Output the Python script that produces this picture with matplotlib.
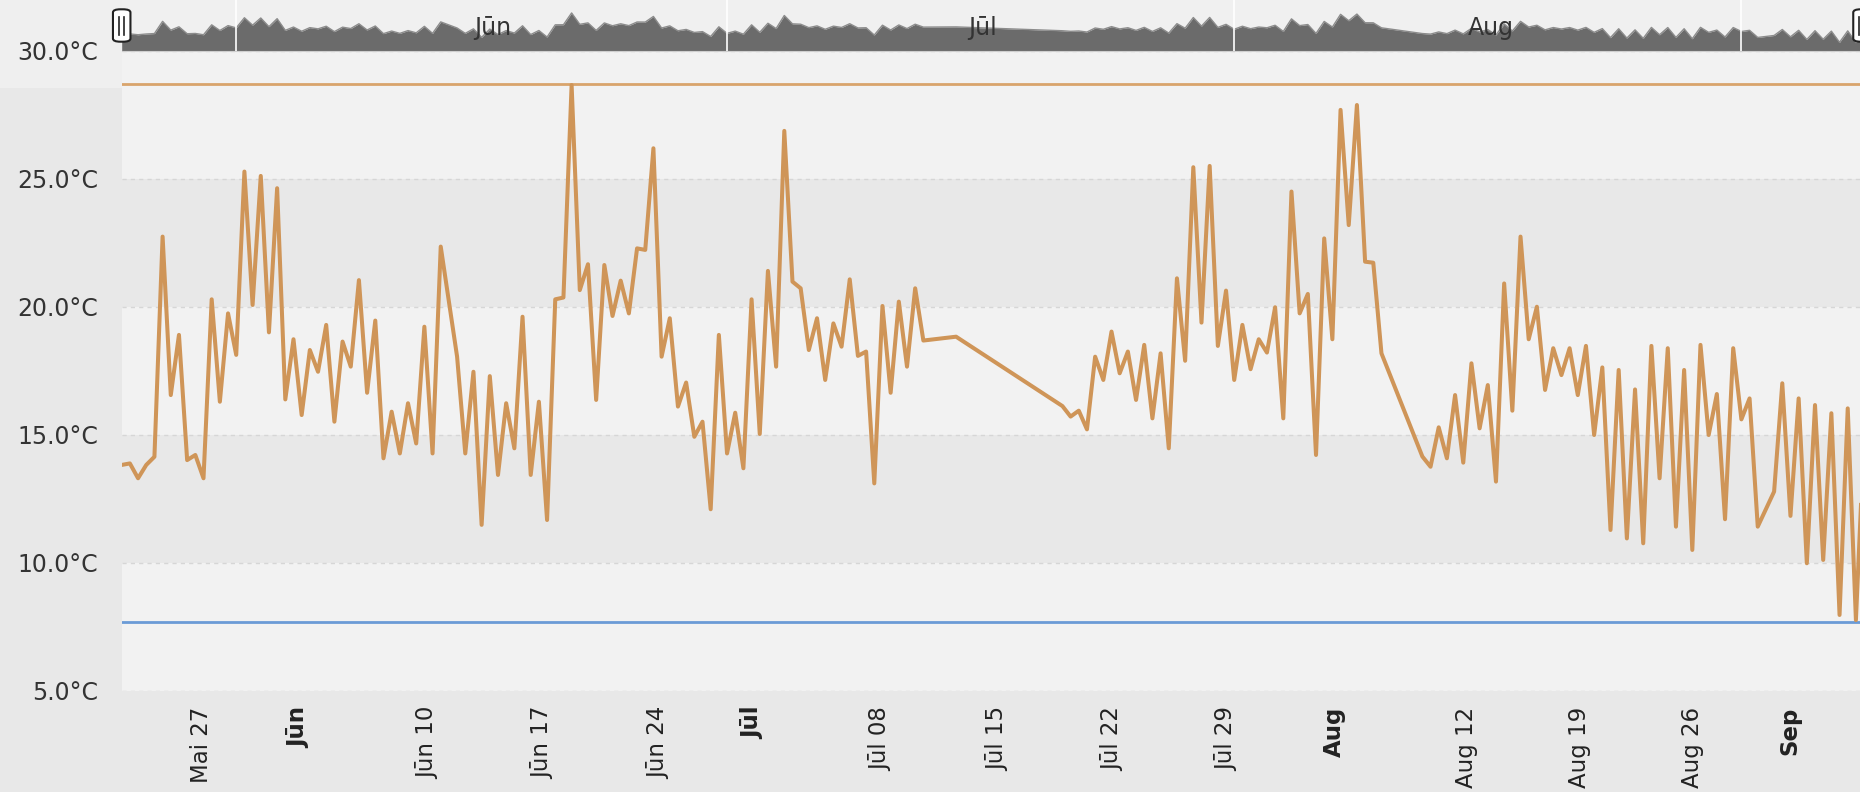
import matplotlib
matplotlib.use("Agg")
import matplotlib.pyplot as plt
from matplotlib.patches import FancyBboxPatch, Rectangle
import matplotlib.transforms as mtransforms

plt.rcParams['font.family'] = ['DejaVu Sans']

# ---- data (x = ordinal half-day slot, y = temperature in °C) ----
slots = [0, 1, 2, 3, 4, 5, 6, 7, 8, 9, 10, 11, 12, 13, 14, 15, 16, 17, 18, 19,
         20, 21, 22, 23, 24, 25, 26, 27, 28, 29, 30, 31, 32, 33, 34, 35, 36, 37, 38, 39,
         41, 42, 43, 44, 45, 46, 47, 48, 49, 50, 51, 52, 53, 54, 55, 56, 57, 58, 59,
         60, 61, 62, 63, 64, 65, 66, 67, 68, 69, 70, 71, 72, 73, 74, 75, 76, 77, 78, 79,
         80, 81, 82, 83, 84, 85, 86, 87, 88, 89, 90, 91, 92, 93, 94, 95, 96, 97, 98,
         102, 115, 116, 117, 118, 119, 120, 121, 122, 123, 124, 125, 126, 127, 128, 129,
         130, 131, 132, 133, 134, 135, 136, 137, 138, 139, 140, 141, 142, 143, 144, 145,
         146, 147, 148, 149, 150, 151, 152, 153, 154, 159, 160, 161, 162, 163, 164, 165,
         166, 167, 168, 169, 170, 171, 172, 173, 174, 175, 176, 177, 178, 179, 180, 181,
         182, 183, 184, 185, 186, 187, 188, 189, 190, 191, 192, 193, 194, 195, 196, 197,
         198, 199, 200, 202, 203, 204, 205, 206, 207, 208, 209, 210, 211, 212, 213]
temps = [13.83, 13.89, 13.31, 13.83, 14.15, 22.75, 16.56, 18.91, 14.02, 14.22, 13.31, 20.30,
         16.30, 19.75, 18.13, 25.29, 20.08, 25.12, 19.01, 24.64, 16.39, 18.74, 15.78, 18.32,
         17.47, 19.30, 15.52, 18.65, 17.67, 21.05, 16.65, 19.47, 14.09, 15.91, 14.28, 16.24,
         14.67, 19.23, 14.28, 22.36,
         18.06, 14.28, 17.47, 11.49, 17.30, 13.44, 16.24, 14.48, 19.62, 13.44, 16.30, 11.68,
         20.30, 20.37, 28.67, 20.66, 21.67, 16.37, 21.64,
         19.65, 21.03, 19.75, 22.29, 22.23, 26.20, 18.06, 19.56, 16.11, 17.05, 14.93, 15.52,
         12.10, 18.91, 14.28, 15.87, 13.70, 20.30, 15.04, 21.41,
         17.67, 26.88, 20.99, 20.73, 18.32, 19.56, 17.15, 19.36, 18.45, 21.08, 18.09, 18.26,
         13.11, 20.04, 16.65, 20.21, 17.67, 20.73, 18.69,
         18.84, 16.13, 15.72, 15.95, 15.22, 18.06, 17.15, 19.04, 17.41, 18.26, 16.37, 18.52,
         15.65, 18.19, 14.48, 21.12,
         17.90, 25.46, 19.39, 25.51, 18.48, 20.64, 17.15, 19.30, 17.57, 18.74, 18.22, 19.99,
         15.65, 24.51, 19.75, 20.51,
         14.22, 22.68, 18.74, 27.70, 23.20, 27.89, 21.77, 21.73, 18.19, 14.16, 13.76, 15.30,
         14.09, 16.56, 13.92, 17.80,
         15.26, 16.95, 13.18, 20.92, 15.95, 22.75, 18.74, 20.01, 16.76, 18.39, 17.34, 18.39,
         16.56, 18.48, 15.00, 17.64,
         11.29, 17.54, 10.96, 16.78, 10.77, 18.48, 13.31, 18.39, 11.42, 17.54, 10.51, 18.52,
         15.00, 16.60, 11.71, 18.39,
         15.61, 16.43, 11.42, 12.79, 17.02, 11.84, 16.43, 9.99, 16.17, 10.12, 15.85, 7.97,
         16.04, 7.77, 15.00]

temp_max_line = 28.7
temp_min_line = 7.7

y_ticks = [5, 10, 15, 20, 25, 30]
y_tick_labels = ["5.0°C", "10.0°C", "15.0°C", "20.0°C", "25.0°C", "30.0°C"]

x_tick_pos = [9.8, 21.7, 37.4, 51.5, 65.6, 77.1, 92.8, 107.1, 121.1, 135.1,
              148.3, 164.4, 178.2, 192.0, 203.9]
x_tick_labels = ["Mai 27", "Jūn", "Jūn 10", "Jūn 17", "Jūn 24", "Jūl", "Jūl 08",
                 "Jūl 15", "Jūl 22", "Jūl 29", "Aug", "Aug 12", "Aug 19", "Aug 26", "Sep"]
x_tick_bold = [False, True, False, False, False, True, False,
               False, False, False, True, False, False, False, True]

# navigator month boundaries (day offsets from start, 2 slots per day)
nav_month_days = [7, 37, 68, 99]
nav_label_days = [22.7, 52.6, 83.7]
nav_labels = ["Jūn", "Jūl", "Aug"]

band_edges = [5, 10, 15, 20, 25, 30]
band_colors = ["#f2f2f2", "#e8e8e8", "#f2f2f2", "#e8e8e8", "#f2f2f2"]

x_range = (0, 212.5)

# ---- figure ----
W_PX, H_PX = 1860, 792
fig = plt.figure(figsize=(W_PX / 100, H_PX / 100), dpi=100, facecolor="#e8e8e8")

L = 121.7 / W_PX
Wd = 1 - L
B = 101 / H_PX
Ht = 640 / H_PX

# slightly lighter corner at top-left (background only)
bg = fig.add_axes([0, (H_PX - 88) / H_PX, L, 88 / H_PX], zorder=-5)
bg.set_facecolor("#efefef")
bg.set_axis_off()
bg.add_patch(Rectangle((0, 0), 1, 1, transform=bg.transAxes, color="#efefef", lw=0))

ax = fig.add_axes([L, B, Wd, Ht], zorder=1)
ax.set_facecolor("#f2f2f2")

for lo, hi, c in zip(band_edges[:-1], band_edges[1:], band_colors):
    ax.axhspan(lo, hi, color=c, lw=0, zorder=0)
for yv in y_ticks:
    ax.axhline(yv, color="#d6d6d6", lw=1, linestyle=(0, (3, 3)), zorder=1)

ax.axhline(temp_max_line, color="#d9a46c", lw=2, zorder=2)
ax.axhline(temp_min_line, color="#6b9bd6", lw=2, zorder=2)
ax.plot(slots, temps, color="#cf9558", lw=2.9, solid_joinstyle="round", zorder=3)

ax.set_xlim(*x_range)
ax.set_ylim(5, 30)
ax.set_yticks(y_ticks)
ax.set_yticklabels(y_tick_labels)
ax.set_xticks(x_tick_pos)
ax.set_xticklabels(x_tick_labels, rotation=90, ha="center", va="top")
for lab, bold in zip(ax.get_xticklabels(), x_tick_bold):
    if bold:
        lab.set_fontweight("bold")
ax.tick_params(axis="y", length=0, pad=17, labelsize=17, labelcolor="#333333")
ax.tick_params(axis="x", length=0, pad=11.5, labelsize=16.5, labelcolor="#222222")
for s in ax.spines.values():
    s.set_visible(False)

# ---- navigator ----
nav_b = (H_PX - 51) / H_PX
nav = fig.add_axes([L, nav_b, Wd, 51 / H_PX], zorder=2)
nav.set_facecolor("#f0f0f0")
nav_ylim = (1.85, 37.8)
nav.fill_between(slots, nav_ylim[0], temps, color="#6b6b6b", lw=0, zorder=2)
nav.plot(slots, temps, color="#8c8c8c", lw=1, zorder=3)
for d in nav_month_days:
    nav.axvline(2 * d, color="#ffffff", lw=1.2, zorder=4)
tr = mtransforms.blended_transform_factory(nav.transData, nav.transAxes)
for d, t in zip(nav_label_days, nav_labels):
    nav.text(2 * d, 0.45, t, transform=tr, ha="center", va="center",
             fontsize=17, color="#333333", zorder=5)
nav.set_xlim(*x_range)
nav.set_ylim(*nav_ylim)
nav.set_xticks([])
nav.set_yticks([])
for k, s in nav.spines.items():
    s.set_visible(k == "bottom")
nav.spines["bottom"].set_color("#cfcfcf")

# navigator handles at both ends of the range
def handle(cx_px):
    w, h = 17.5, 32.4
    top = 9.3
    x0 = cx_px - w / 2
    y0 = H_PX - top - h
    p = FancyBboxPatch((x0 / W_PX, y0 / H_PX), w / W_PX, h / H_PX,
                       boxstyle="round,pad=0,rounding_size=0.004",
                       transform=fig.transFigure, facecolor="white",
                       edgecolor="#222222", lw=1.5, zorder=10)
    fig.patches.append(p)
    for dx in (-2.6, 2.2):
        fig.lines.append(plt.Line2D([(cx_px + dx) / W_PX] * 2,
                                    [(H_PX - 35) / H_PX, (H_PX - 16.7) / H_PX],
                                    transform=fig.transFigure, color="#222222",
                                    lw=1.2, zorder=11))

handle(121.7)
handle(1862)

fig.savefig("out.png", dpi=100, facecolor=fig.get_facecolor())
